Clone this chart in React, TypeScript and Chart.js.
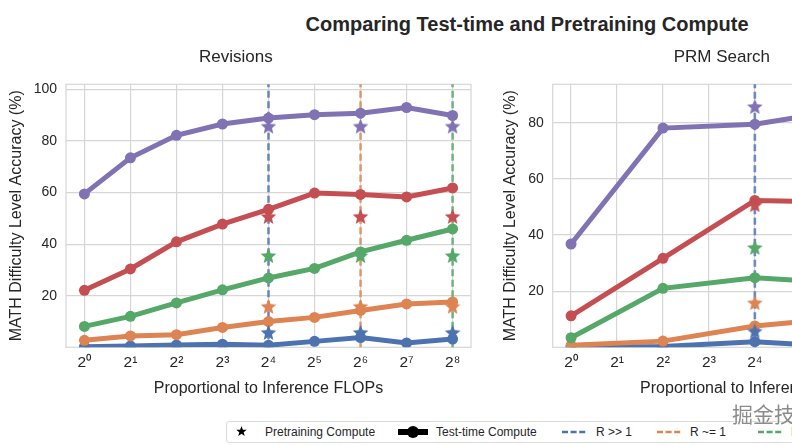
import React, { useEffect, useRef } from 'react';
import { Chart, registerables } from 'chart.js';

Chart.register(...registerables);

// ---------- text ----------
const mainTitle = 'Comparing Test-time and Pretraining Compute';
const leftTitle = 'Revisions';
const rightTitle = 'PRM Search';
const xAxisTitle = 'Proportional to Inference FLOPs';
const yAxisTitle = 'MATH Difficulty Level Accuracy (%)';
const legendLabels = ['Pretraining Compute', 'Test-time Compute', 'R >> 1', 'R ~= 1', 'R << 1'];
const watermark = '掘金技术社区';

// ---------- ticks ----------
const exponents = [0, 1, 2, 3, 4, 5, 6, 7, 8];
const superDigits = ['⁰', '¹', '²', '³', '⁴', '⁵', '⁶', '⁷', '⁸'];
const xTickLabels = exponents.map((e) => '2' + superDigits[e]);
const leftYTicks = [20, 40, 60, 80, 100];
const rightYTicks = [20, 40, 60, 80];
const xMin = -0.4;
const xMax = 8.4;
const leftYMin = 0;
const leftYMax = 102;
const rightYMin = 0;
const rightYMax = 93.7;

// ---------- data: Revisions (log2 of budget) ----------
const revisionsX = [0, 1, 2, 3, 4, 5, 6, 7, 8];
const revLevel1 = [59.5, 73.5, 82.2, 86.6, 88.9, 90.2, 90.8, 93.0, 89.9];
const revLevel2 = [22.1, 30.4, 40.9, 47.8, 53.5, 59.8, 59.3, 58.3, 61.8];
const revLevel3 = [8.1, 12.0, 17.2, 22.3, 26.9, 30.6, 37.0, 41.5, 45.9];
const revLevel4 = [2.7, 4.4, 4.9, 7.7, 10.0, 11.6, 14.3, 16.8, 17.6];
const revLevel5 = [0.2, 0.5, 0.9, 1.2, 0.8, 2.3, 3.8, 1.7, 3.2];

// ---------- data: PRM Search ----------
const prmX = [0, 2, 4, 6];
const prmLevel1 = [36.8, 78.1, 79.5, 84.7];
const prmLevel2 = [11.2, 31.7, 52.3, 51.7];
const prmLevel3 = [3.4, 21.0, 24.8, 22.8];
const prmLevel4 = [0.7, 2.2, 7.6, 10.6];
const prmLevel5 = [0.2, 0.3, 2.0, 0.1];

// ---------- pretraining compute stars (per difficulty level) ----------
const pretrainStars = [85.8, 50.8, 35.6, 15.9, 5.8];
const revisionsStarX = [4, 6, 8];
const prmStarX = [4];

// ---------- ratio markers (R >> 1, R ~= 1, R << 1) ----------
const revisionsRatioX = [4, 6, 8];
const prmRatioX = [4];

// ---------- style ----------
const FONT = '"Liberation Sans", Arial, Helvetica, sans-serif';
const TEXT = '#262626';
const GRID = '#d6d6d6';
const levelColors = ['#8172B3', '#C44E52', '#55A868', '#DD8452', '#4C72B0'];
const ratioColors = ['rgba(76,114,176,0.8)', 'rgba(221,132,82,0.8)', 'rgba(85,168,104,0.8)'];
const ratioSolid = ['#4C72B0', '#DD8452', '#55A868'];

function starPoints(cx: number, cy: number, R: number, r: number): [number, number][] {
  const pts: [number, number][] = [];
  for (let i = 0; i < 10; i++) {
    const rad = i % 2 === 0 ? R : r;
    const a = -Math.PI / 2 + (i * Math.PI) / 5;
    pts.push([cx + rad * Math.cos(a), cy + rad * Math.sin(a)]);
  }
  return pts;
}

function makeStar(color: string, R: number): HTMLCanvasElement {
  const size = Math.ceil(R * 2 + 2);
  const c = document.createElement('canvas');
  c.width = size;
  c.height = size;
  const ctx = c.getContext('2d')!;
  const pts = starPoints(size / 2, size / 2 + R * 0.1, R, R * 0.45);
  ctx.beginPath();
  pts.forEach(([x, y], i) => (i === 0 ? ctx.moveTo(x, y) : ctx.lineTo(x, y)));
  ctx.closePath();
  ctx.fillStyle = color;
  ctx.fill();
  return c;
}

const framePlugin = {
  id: 'frame',
  beforeDatasetsDraw(chart: any) {
    const { ctx, chartArea } = chart;
    ctx.save();
    ctx.strokeStyle = GRID;
    ctx.lineWidth = 1.2;
    ctx.strokeRect(chartArea.left, chartArea.top, chartArea.right - chartArea.left, chartArea.bottom - chartArea.top);
    ctx.restore();
  },
};

interface PanelSpec {
  title: string;
  xs: number[];
  series: number[][];
  starX: number[];
  ratioX: number[];
  yMin: number;
  yMax: number;
  yTicks: number[];
  yAxisWidth: number;
  yTitlePad: number;
}

function buildConfig(p: PanelSpec): any {
  const datasets: any[] = [];
  // vertical dashed ratio lines
  p.ratioX.forEach((x, i) => {
    datasets.push({
      data: [
        { x, y: p.yMin - 5 },
        { x, y: p.yMax + 5 },
      ],
      showLine: true,
      borderColor: ratioColors[i],
      borderWidth: 2.6,
      borderDash: [7, 3.5],
      pointRadius: 0,
      pointHoverRadius: 0,
      order: 3,
    });
  });
  // test-time compute curves
  p.series.forEach((vals, i) => {
    datasets.push({
      data: p.xs.map((x, j) => ({ x, y: vals[j] })),
      showLine: true,
      borderColor: levelColors[i],
      backgroundColor: levelColors[i],
      borderWidth: 5,
      pointRadius: 5.5,
      pointHoverRadius: 5.5,
      pointBorderWidth: 0,
      order: 2,
    });
  });
  // pretraining compute stars
  pretrainStars.forEach((v, i) => {
    const img = makeStar(levelColors[i], 8.2);
    datasets.push({
      data: p.starX.map((x) => ({ x, y: v })),
      showLine: false,
      pointStyle: img,
      pointRadius: 8,
      pointHoverRadius: 8,
      order: 1,
    });
  });

  return {
    type: 'scatter',
    data: { datasets },
    options: {
      animation: false,
      responsive: false,
      events: [],
      layout: { padding: { left: 0, right: 8.3, top: 0, bottom: 0 } },
      plugins: {
        legend: { display: false },
        tooltip: { enabled: false },
        title: {
          display: true,
          text: p.title,
          color: TEXT,
          font: { family: FONT, size: 17, weight: 'normal' },
          padding: { top: 6.8, bottom: 17.1 },
        },
      },
      scales: {
        x: {
          type: 'linear',
          min: xMin,
          max: xMax,
          afterBuildTicks: (s: any) => {
            s.ticks = exponents.map((v) => ({ value: v }));
          },
          afterFit: (s: any) => {
            s.height = 62.7;
          },
          ticks: {
            callback: (v: number) => {
              const k = exponents.indexOf(Math.round(v));
              return k >= 0 ? xTickLabels[k] : '';
            },
            color: TEXT,
            font: { family: FONT, size: 15.5 },
            padding: 6,
            maxRotation: 0,
            autoSkip: false,
          },
          grid: { color: GRID, lineWidth: 1.2, drawTicks: false },
          border: { display: false },
          title: {
            display: true,
            text: xAxisTitle,
            color: TEXT,
            font: { family: FONT, size: 16 },
            padding: { top: 0, bottom: 11.4 },
          },
        },
        y: {
          type: 'linear',
          min: p.yMin,
          max: p.yMax,
          afterBuildTicks: (s: any) => {
            s.ticks = p.yTicks.map((v) => ({ value: v }));
          },
          afterFit: (s: any) => {
            s.width = p.yAxisWidth;
          },
          ticks: {
            color: TEXT,
            font: { family: FONT, size: 14 },
            padding: 9,
            callback: (v: number) => String(v),
          },
          grid: { color: GRID, lineWidth: 1.2, drawTicks: false },
          border: { display: false },
          title: {
            display: true,
            text: yAxisTitle,
            color: TEXT,
            font: { family: FONT, size: 16 },
            padding: { top: p.yTitlePad, bottom: 0 },
          },
        },
      },
    },
    plugins: [framePlugin],
  };
}

function Panel({ spec, left, top, width, height }: { spec: PanelSpec; left: number; top: number; width: number; height: number }) {
  const ref = useRef<HTMLCanvasElement | null>(null);
  useEffect(() => {
    if (!ref.current) return;
    const chart = new Chart(ref.current, buildConfig(spec));
    return () => chart.destroy();
  }, []);
  return (
    <canvas
      ref={ref}
      width={width}
      height={height}
      style={{ position: 'absolute', left, top, width, height }}
    />
  );
}

function StarIcon({ cx, cy, R, color }: { cx: number; cy: number; R: number; color: string }) {
  const pts = starPoints(R + 1, R + 1, R, R * 0.42)
    .map(([x, y]) => `${x.toFixed(2)},${y.toFixed(2)}`)
    .join(' ');
  return (
    <svg width={2 * R + 2} height={2 * R + 2} style={{ position: 'absolute', left: cx - R - 1, top: cy - R - 1 }}>
      <polygon points={pts} fill={color} />
    </svg>
  );
}

function DashHandle({ x, cy, color }: { x: number; cy: number; color: string }) {
  return (
    <svg width={24} height={6} style={{ position: 'absolute', left: x, top: cy - 3 }}>
      <line x1={0} y1={3} x2={24} y2={3} stroke={color} strokeWidth={2.6} strokeDasharray="6 2.6" />
    </svg>
  );
}

export default function App() {
  const leftSpec: PanelSpec = {
    title: leftTitle,
    xs: revisionsX,
    series: [revLevel1, revLevel2, revLevel3, revLevel4, revLevel5],
    starX: revisionsStarX,
    ratioX: revisionsRatioX,
    yMin: leftYMin,
    yMax: leftYMax,
    yTicks: leftYTicks,
    yAxisWidth: 66,
    yTitlePad: 7.4,
  };
  const rightSpec: PanelSpec = {
    title: rightTitle,
    xs: prmX,
    series: [prmLevel1, prmLevel2, prmLevel3, prmLevel4, prmLevel5],
    starX: prmStarX,
    ratioX: prmRatioX,
    yMin: rightYMin,
    yMax: rightYMax,
    yTicks: rightYTicks,
    yAxisWidth: 66.7,
    yTitlePad: 15.4,
  };
  const legendCy = 431.5;
  const textStyle: React.CSSProperties = {
    position: 'absolute',
    top: legendCy - 8,
    fontSize: 12,
    lineHeight: '16px',
    whiteSpace: 'nowrap',
    color: TEXT,
  };
  return (
    <div
      style={{
        position: 'fixed',
        left: 0,
        top: 0,
        width: 792,
        height: 446,
        overflow: 'hidden',
        background: '#ffffff',
        fontFamily: FONT,
        color: TEXT,
      }}
    >
      <div
        style={{
          position: 'absolute',
          left: 0,
          top: 12,
          width: 1054,
          textAlign: 'center',
          fontSize: 20,
          fontWeight: 'bold',
          lineHeight: '24px',
          whiteSpace: 'nowrap',
        }}
      >
        {mainTitle}
      </div>
      <Panel spec={leftSpec} left={0} top={40} width={480} height={370} />
      <Panel spec={rightSpec} left={486} top={40} width={480} height={370} />

      {/* legend */}
      <div
        style={{
          position: 'absolute',
          left: 226,
          top: 421,
          width: 602,
          height: 22,
          border: '1px solid #d9d9d9',
          borderRadius: 3,
          boxSizing: 'border-box',
          background: '#ffffff',
        }}
      />
      <StarIcon cx={241.5} cy={legendCy} R={5.5} color="#000000" />
      <span style={{ ...textStyle, left: 265 }}>{legendLabels[0]}</span>
      <svg width={32} height={14} style={{ position: 'absolute', left: 397, top: legendCy - 7 }}>
        <line x1={1} y1={7} x2={31} y2={7} stroke="#000" strokeWidth={6} />
        <circle cx={16} cy={7} r={6} fill="#000" />
      </svg>
      <span style={{ ...textStyle, left: 436 }}>{legendLabels[1]}</span>
      <DashHandle x={562} cy={legendCy} color={ratioSolid[0]} />
      <span style={{ ...textStyle, left: 596 }}>{legendLabels[2]}</span>
      <DashHandle x={657} cy={legendCy} color={ratioSolid[1]} />
      <span style={{ ...textStyle, left: 690 }}>{legendLabels[3]}</span>
      <DashHandle x={758} cy={legendCy} color={ratioSolid[2]} />
      <span style={{ ...textStyle, left: 791 }}>{legendLabels[4]}</span>

      <span
        style={{
          position: 'absolute',
          left: 732,
          top: 400,
          fontSize: 21,
          lineHeight: '26px',
          fontFamily: '"Noto Sans CJK SC", sans-serif',
          color: 'rgba(110,110,110,0.8)',
          whiteSpace: 'nowrap',
          textShadow: '0 0 2px #fff, 0 0 2px #fff',
        }}
      >
        {watermark}
      </span>
    </div>
  );
}
